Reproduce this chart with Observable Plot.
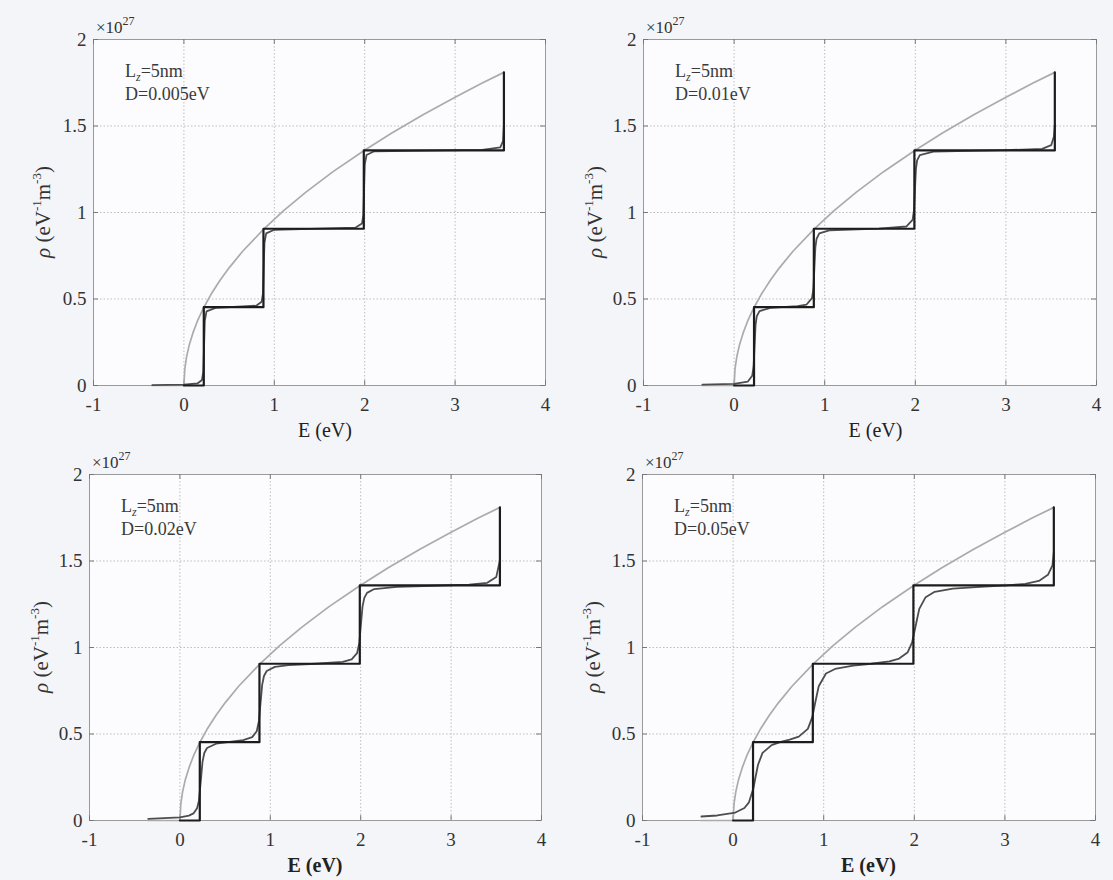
<!DOCTYPE html>
<html><head><meta charset="utf-8">
<script src="https://cdn.jsdelivr.net/npm/d3@7"></script>
<script src="https://cdn.jsdelivr.net/npm/@observablehq/plot@0.6"></script>
<style>
html,body{margin:0;padding:0}
body{background:#f4f5f9;width:1113px;height:880px;position:relative;overflow:hidden;font-family:"Liberation Serif","Times New Roman",serif}
svg{overflow:visible}
</style></head><body>
<script>
// ---- data ----
const xTicks = [-1, 0, 1, 2, 3, 4];
const yTicks = [0, 0.5, 1, 1.5, 2];
const yTickLabels = ["0", "0.5", "1", "1.5", "2"];
const broadenings = ["0.005", "0.01", "0.02", "0.05"];

// bulk (3D) density of states, grey curve
const bulkE   = [-0.35, 0, 0.01, 0.03, 0.06, 0.1, 0.15, 0.22, 0.3, 0.4, 0.5, 0.65, 0.88, 1.1, 1.35, 1.65, 1.99, 2.3, 2.65, 3.0, 3.3, 3.54];
const bulkRho = [0, 0, 0.096, 0.167, 0.236, 0.304, 0.373, 0.451, 0.527, 0.608, 0.680, 0.776, 0.902, 1.009, 1.118, 1.236, 1.357, 1.459, 1.566, 1.666, 1.748, 1.810];

// ideal quantum-well staircase, black
const stairE   = [0, 0.22, 0.22, 0.88, 0.88, 1.99, 1.99, 3.54, 3.54];
const stairRho = [0, 0, 0.453, 0.453, 0.906, 0.906, 1.359, 1.359, 1.810];

// broadened staircases
const broadE005   = [-0.35, 0, 0.15, 0.2, 0.215, 0.223, 0.231, 0.25, 0.35, 0.8, 0.86, 0.875, 0.883, 0.891, 0.91, 1.0, 1.9, 1.97, 1.985, 1.993, 2.001, 2.02, 2.1, 3.3, 3.5, 3.53, 3.54];
const broadRho005 = [0.002, 0.005, 0.012, 0.032, 0.082, 0.228, 0.374, 0.428, 0.449, 0.461, 0.484, 0.533, 0.679, 0.825, 0.879, 0.900, 0.913, 0.936, 0.986, 1.132, 1.278, 1.332, 1.353, 1.362, 1.376, 1.412, 1.507];

const broadE01   = [-0.35, 0, 0.15, 0.2, 0.215, 0.226, 0.237, 0.25, 0.28, 0.4, 0.7, 0.8, 0.86, 0.875, 0.886, 0.897, 0.91, 0.94, 1.05, 1.6, 1.9, 1.97, 1.985, 1.996, 2.007, 2.02, 2.05, 2.2, 3.0, 3.4, 3.5, 3.53, 3.54];
const broadRho01 = [0.005, 0.009, 0.022, 0.056, 0.110, 0.230, 0.350, 0.400, 0.430, 0.449, 0.459, 0.468, 0.505, 0.558, 0.678, 0.799, 0.848, 0.879, 0.897, 0.907, 0.919, 0.958, 1.011, 1.131, 1.251, 1.301, 1.332, 1.352, 1.360, 1.368, 1.389, 1.439, 1.507];

const broadE02   = [-0.35, 0, 0.1, 0.15, 0.19, 0.21, 0.232, 0.25, 0.27, 0.3, 0.4, 0.55, 0.7, 0.8, 0.85, 0.875, 0.892, 0.91, 0.93, 0.96, 1.05, 1.2, 1.5, 1.8, 1.9, 1.96, 1.985, 2.002, 2.02, 2.04, 2.07, 2.15, 2.4, 2.8, 3.2, 3.4, 3.5, 3.54];
const broadRho02 = [0.009, 0.018, 0.028, 0.041, 0.071, 0.113, 0.233, 0.339, 0.390, 0.419, 0.444, 0.455, 0.465, 0.482, 0.516, 0.577, 0.679, 0.784, 0.835, 0.864, 0.888, 0.898, 0.906, 0.917, 0.931, 0.967, 1.028, 1.130, 1.236, 1.287, 1.316, 1.338, 1.351, 1.357, 1.363, 1.374, 1.408, 1.504];

const broadE05   = [-0.35, -0.175, 0.025, 0.125, 0.175, 0.225, 0.245, 0.275, 0.325, 0.425, 0.525, 0.625, 0.725, 0.825, 0.875, 0.905, 0.945, 1.025, 1.125, 1.325, 1.525, 1.725, 1.825, 1.925, 1.975, 2.015, 2.055, 2.125, 2.225, 2.425, 2.725, 3.025, 3.225, 3.375, 3.475, 3.525, 3.54];
const broadRho05 = [0.023, 0.029, 0.046, 0.072, 0.105, 0.188, 0.244, 0.322, 0.391, 0.436, 0.454, 0.467, 0.485, 0.530, 0.599, 0.678, 0.776, 0.850, 0.876, 0.895, 0.906, 0.920, 0.934, 0.971, 1.028, 1.126, 1.223, 1.291, 1.322, 1.340, 1.351, 1.359, 1.368, 1.385, 1.420, 1.475, 1.550];

const broadSets = [[broadE005, broadRho005], [broadE01, broadRho01], [broadE02, broadRho02], [broadE05, broadRho05]];

// ---- layout ----
const layout = [
  {left: 0,   top: 0,   w: 556, ml: 93, mr: 11, mt: 39, mb: 55, ylabX: 50, bold: false},
  {left: 556, top: 0,   w: 557, ml: 87, mr: 17, mt: 39, mb: 55, ylabX: 46, bold: false},
  {left: 0,   top: 440, w: 556, ml: 89, mr: 15, mt: 34, mb: 60, ylabX: 48, bold: true},
  {left: 556, top: 440, w: 557, ml: 86, mr: 18, mt: 34, mb: 60, ylabX: 44, bold: true}
];
const H = 440;
const FONT = "Liberation Serif, Times New Roman, serif";

layout.forEach((p, i) => {
  const bulk = bulkE.map((e, k) => ({e, r: bulkRho[k]}));
  const stair = stairE.map((e, k) => ({e, r: stairRho[k]}));
  const [bE, bR] = broadSets[i];
  const broad = bE.map((e, k) => ({e, r: bR[k]}));

  const chart = Plot.plot({
    width: p.w, height: H,
    marginLeft: p.ml, marginRight: p.mr, marginTop: p.mt, marginBottom: p.mb,
    x: {domain: [-1, 4]},
    y: {domain: [0, 2]},
    style: {background: "transparent", fontFamily: FONT, fontSize: "19px", color: "#333", overflow: "visible"},
    marks: [
      Plot.frame({fill: "#fcfcfe"}),
      Plot.gridX(xTicks, {stroke: "#bdbdbd", strokeOpacity: 1, strokeDasharray: "1.5,2"}),
      Plot.gridY(yTicks, {stroke: "#bdbdbd", strokeOpacity: 1, strokeDasharray: "1.5,2"}),
      Plot.frame({stroke: "#9a9a9a", strokeWidth: 1}),
      Plot.ruleX(xTicks, {y1: 0, y2: 0.028, stroke: "#777"}),
      Plot.ruleX(xTicks, {y1: 2, y2: 1.972, stroke: "#777"}),
      Plot.ruleY(yTicks, {x1: -1, x2: -0.945, stroke: "#777"}),
      Plot.ruleY(yTicks, {x1: 4, x2: 3.945, stroke: "#777"}),
      Plot.axisX(xTicks, {tickSize: 0, tickPadding: 12, tickFormat: d => String(d), fontSize: 19, fill: "#333", label: null}),
      Plot.axisY(yTicks, {tickSize: 0, tickPadding: 7, tickFormat: d => yTickLabels[yTicks.indexOf(d)], fontSize: 19, fill: "#333", label: null}),
      Plot.line(bulk, {x: "e", y: "r", stroke: "#ababab", strokeWidth: 1.7}),
      Plot.line(broad, {x: "e", y: "r", stroke: "#4d4d4d", strokeWidth: 1.8}),
      Plot.line(stair, {x: "e", y: "r", stroke: "#1c1c1c", strokeWidth: 2.2})
    ]
  });
  chart.style.position = "absolute";
  chart.style.left = p.left + "px";
  chart.style.top = p.top + "px";
  chart.style.overflow = "visible";
  document.body.appendChild(chart);

  const sx = chart.scale("x"), sy = chart.scale("y");
  const svg = d3.select(chart);
  const x0 = sx.apply(-1), x1 = sx.apply(4), yTop = sy.apply(2), yBot = sy.apply(0);

  // ×10^27
  const ex = svg.append("text").attr("x", x0 + 3).attr("y", yTop - 6).attr("text-anchor", "start")
    .attr("font-family", FONT).attr("font-size", 17).attr("fill", "#333");
  ex.append("tspan").text("×10");
  ex.append("tspan").attr("font-size", 12).attr("dy", -8).text("27");

  // annotation
  const a1 = svg.append("text").attr("x", sx.apply(-0.646)).attr("y", sy.apply(1.78)).attr("text-anchor", "start")
    .attr("font-family", FONT).attr("font-size", 18).attr("fill", "#3a3a3a");
  a1.append("tspan").text("L");
  a1.append("tspan").attr("font-size", 12).attr("font-style", "italic").attr("dy", 4).text("z");
  a1.append("tspan").attr("dy", -4).text("=5nm");
  svg.append("text").attr("x", sx.apply(-0.646)).attr("y", sy.apply(1.645)).attr("text-anchor", "start")
    .attr("font-family", FONT).attr("font-size", 18).attr("fill", "#3a3a3a")
    .text("D=" + broadenings[i] + "eV");

  // y label
  const yl = svg.append("text")
    .attr("transform", `translate(${p.ylabX},${(yTop + yBot) / 2}) rotate(-90)`)
    .attr("text-anchor", "middle").attr("font-family", FONT).attr("font-size", 21).attr("fill", "#333");
  yl.append("tspan").attr("font-style", "italic").text("ρ");
  yl.append("tspan").text(" (eV");
  yl.append("tspan").attr("font-size", 13).attr("dy", -9).text("-1");
  yl.append("tspan").attr("dy", 9).text("m");
  yl.append("tspan").attr("font-size", 13).attr("dy", -9).text("-3");
  yl.append("tspan").attr("dy", 9).text(")");

  // x label
  svg.append("text").attr("x", (x0 + x1) / 2 + (p.bold ? 0 : 6)).attr("y", yBot + 52)
    .attr("text-anchor", "middle").attr("font-family", FONT).attr("font-size", 20)
    .attr("font-weight", p.bold ? "bold" : "normal").attr("fill", "#222")
    .text("E (eV)");
});
</script>
</body></html>
